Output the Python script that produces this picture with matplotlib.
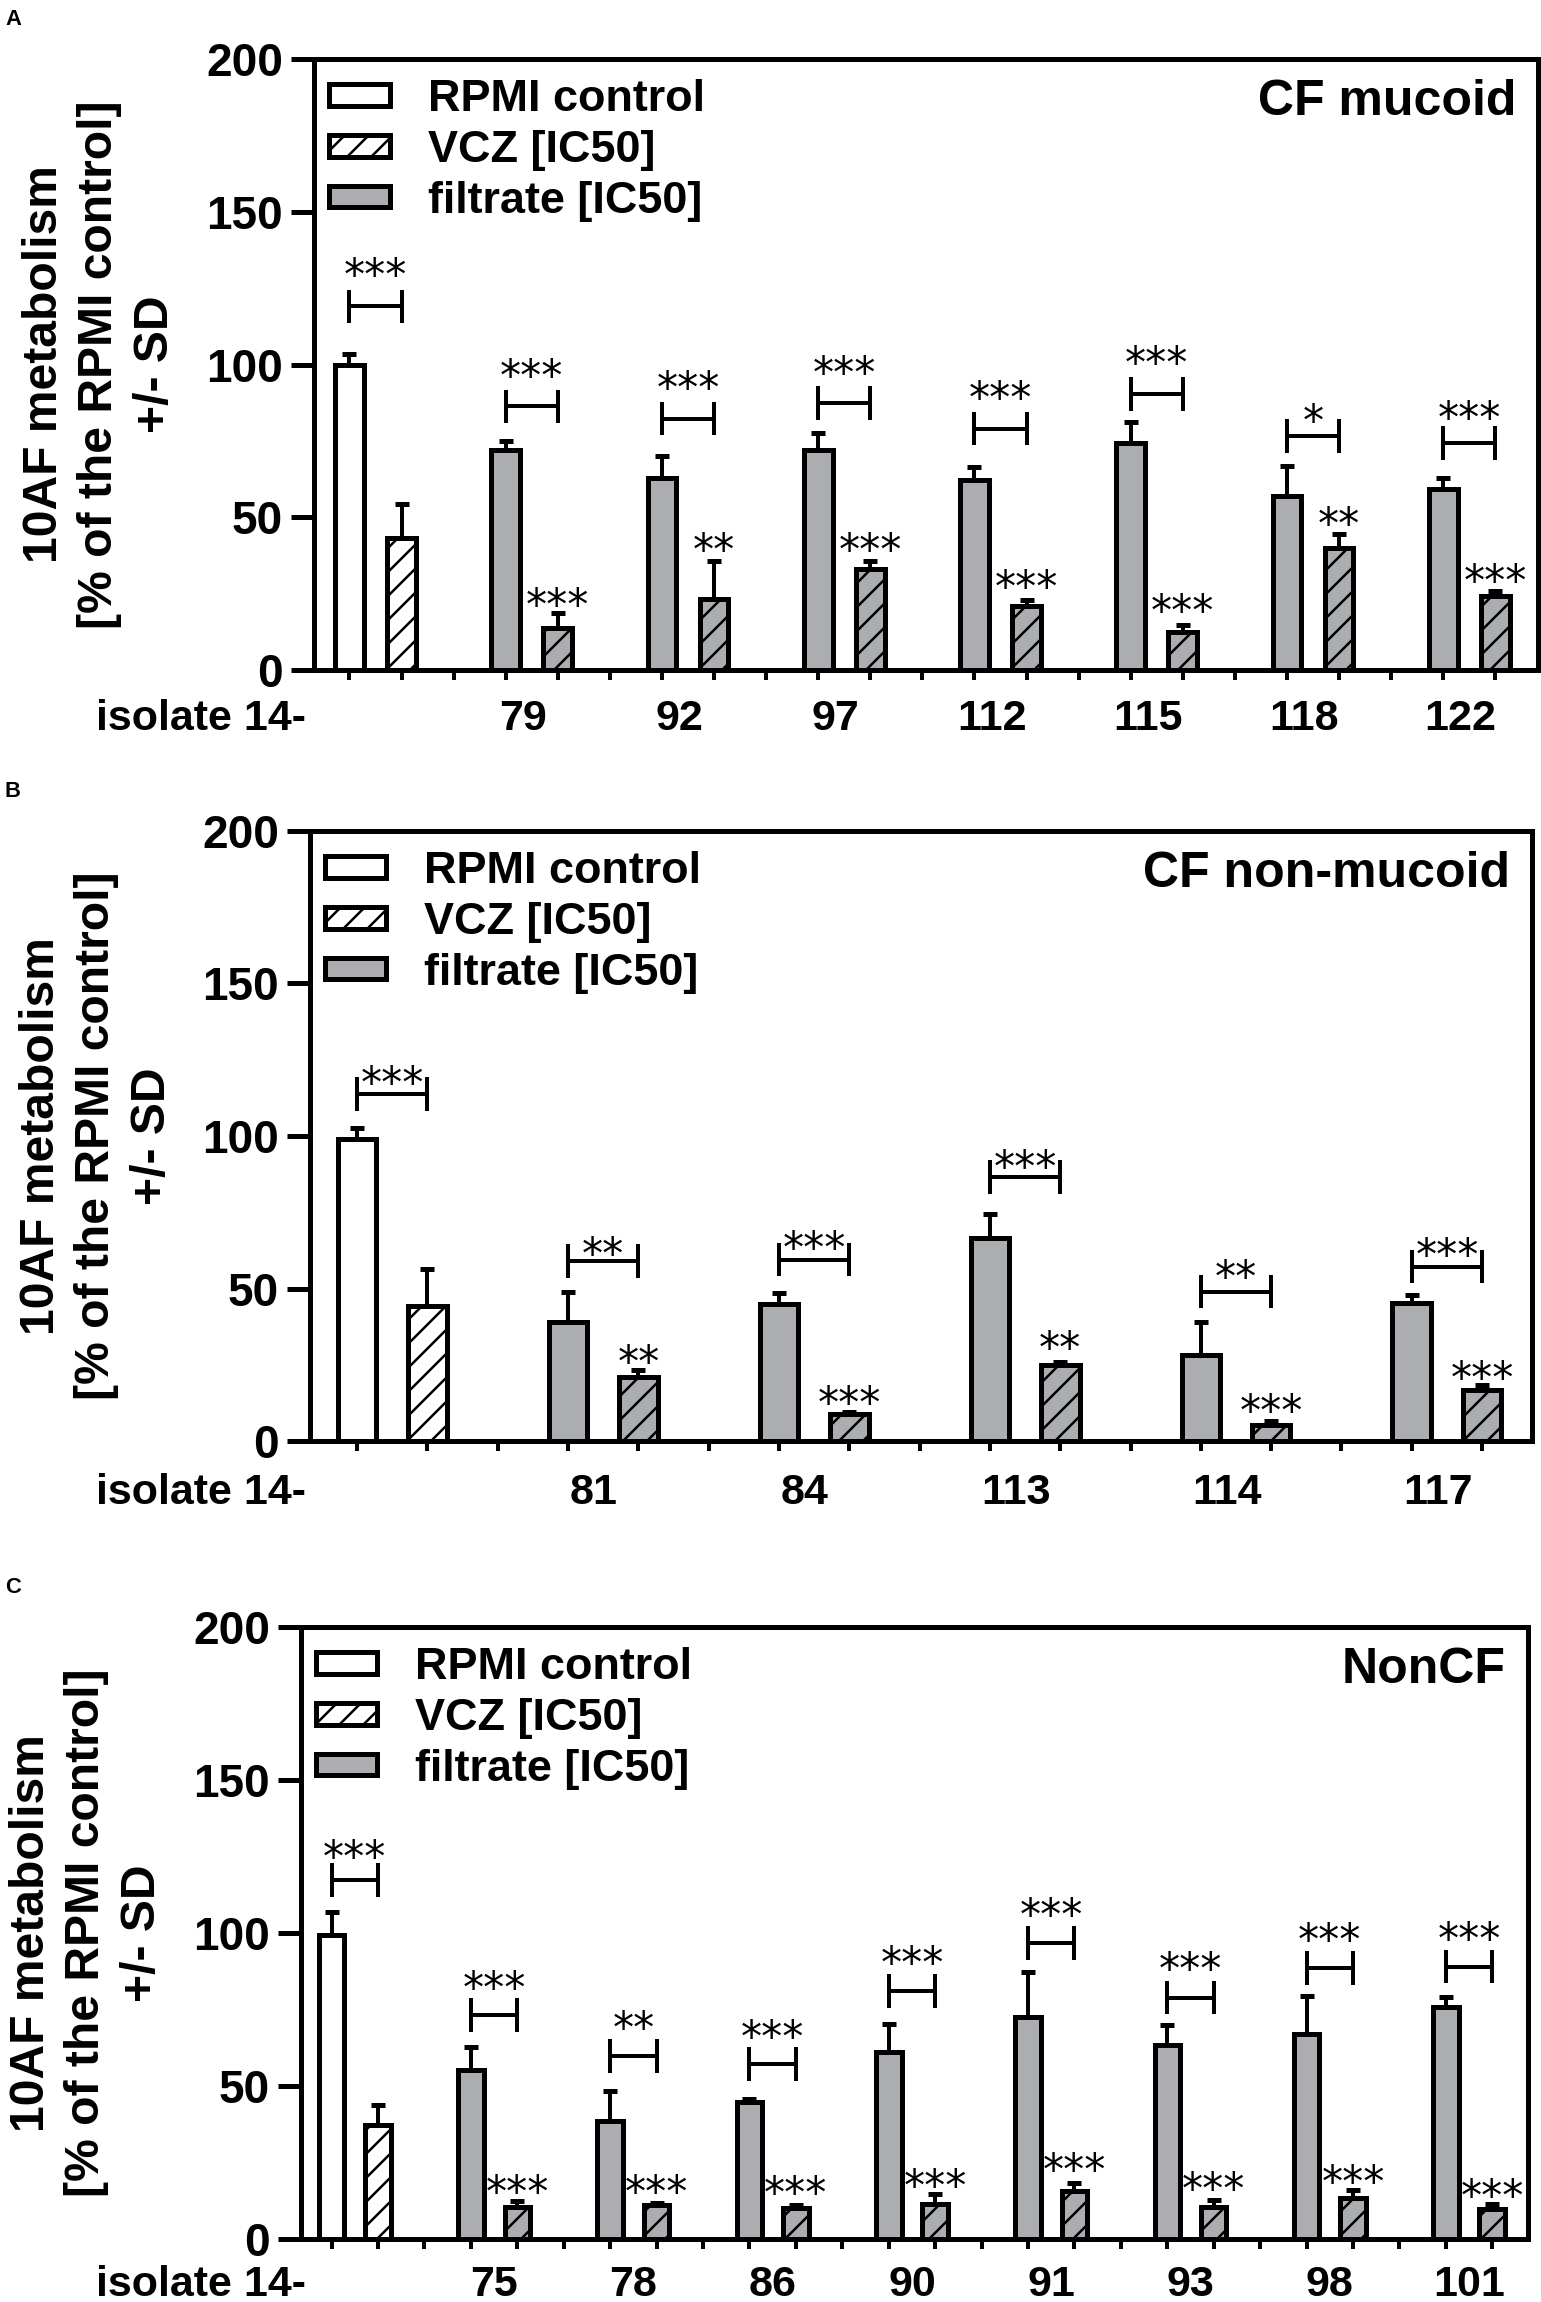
'''
Three-panel bar chart: 10AF metabolism under VCZ / filtrate, CF mucoid, CF non-mucoid, NonCF
'''
import numpy as np
import matplotlib.pyplot as plt
from matplotlib.patches import Patch

plt.rcParams['font.family'] = ['Liberation Sans', 'DejaVu Sans']
plt.rcParams['font.weight'] = 'bold'
plt.rcParams['hatch.linewidth'] = 2.5

GRAY = '#abadb0'

# ---- panel A: CF mucoid ----
groups_a = ['79', '92', '97', '112', '115', '118', '122']
ctrl_a = [100, 43.2]
ctrl_err_a = [3.5, 11]
filt_a = [72, 62.8, 72, 62.3, 74.3, 57, 59.3]
filt_err_a = [3, 7.3, 5.6, 4, 7, 9.8, 3.5]
vcz_a = [13.8, 23.3, 33, 21, 12.3, 40, 24.3]
vcz_err_a = [5, 12.4, 2.6, 2, 2.4, 4.5, 1.5]
bracket_a = [119, 86.3, 82.3, 87.4, 79, 90.4, 76.6, 74.3]
bracket_star_a = [132, 99, 95, 100, 91.6, 103, 84, 85]
bracket_sig_a = ['***', '***', '***', '***', '***', '***', '*', '***']
vcz_star_a = [24, 42, 42, 29.7, 21.8, 50.3, 31.8]
vcz_sig_a = ['***', '**', '***', '***', '***', '**', '***']

# ---- panel B: CF non-mucoid ----
groups_b = ['81', '84', '113', '114', '117']
ctrl_b = [99, 44.3]
ctrl_err_b = [3.5, 12]
filt_b = [38.9, 44.9, 66.7, 28.3, 45.2]
filt_err_b = [10, 3.7, 7.8, 10.8, 2.7]
vcz_b = [21, 9, 24.8, 5.3, 16.6]
vcz_err_b = [2.3, 0.5, 1, 1.2, 1.8]
bracket_b = [113.7, 59, 59.5, 86.6, 49, 57.2]
bracket_star_b = [120, 64, 66, 92.6, 56.5, 63.5]
bracket_sig_b = ['***', '**', '***', '***', '**', '***']
vcz_star_b = [28.6, 15, 33, 12.5, 23.3]
vcz_sig_b = ['**', '***', '**', '***', '***']

# ---- panel C: NonCF ----
groups_c = ['75', '78', '86', '90', '91', '93', '98', '101']
ctrl_c = [99.5, 37.1]
ctrl_err_c = [7.3, 6.8]
filt_c = [55.2, 38.6, 44.7, 61.2, 72.5, 63.5, 66.9, 75.8]
filt_err_c = [7.5, 9.8, 1.2, 9, 14.6, 6.3, 12.6, 3.4]
vcz_c = [10.4, 11.1, 10, 11.6, 15.8, 10.4, 13.5, 9.8]
vcz_err_c = [2, 0.6, 1, 3, 2.5, 2.2, 2.6, 1.5]
bracket_c = [117.3, 73.2, 59.7, 57.1, 81, 96.8, 78.9, 88.6, 89]
bracket_star_c = [127.4, 84.8, 71.7, 68.7, 92.8, 108.5, 90.8, 100.3, 100.7]
bracket_sig_c = ['***', '***', '**', '***', '***', '***', '***', '***', '***']
vcz_star_c = [17.9, 17.9, 17.6, 19.8, 25.1, 19.1, 21.4, 16.8]
vcz_sig_c = ['***'] * 8

W, H = 1541, 2302
DPI = 72
YLABEL = '10AF metabolism\n[% of the RPMI control]\n+/- SD'


def star(ax, x, y, s):
    ax.annotate(s, (x, y), xytext=(0, -22), textcoords='offset points',
                ha='center', va='baseline', fontsize=42,
                family='DejaVu Sans', weight='normal')


def draw_panel(fig, box, letter, title, groups, ctrl, ctrl_err, filt, filt_err,
               vcz, vcz_err, bracket, bracket_star, bracket_sig, vcz_star, vcz_sig,
               xpad, ylab_x, lab_shift, lab_pad):
    l, r, t, b = box
    ax = fig.add_axes([l / W, 1 - b / H, (r - l) / W, (b - t) / H])
    n = len(groups)
    xf = np.arange(1, n + 1) * 3
    xv = xf + 1
    bw = 0.55
    ekw = dict(ecolor='black', elinewidth=4, capsize=7, capthick=5)
    lw = 5

    ax.bar(0, ctrl[0], bw, yerr=[[0], [ctrl_err[0]]], color='white',
           edgecolor='black', lw=lw, error_kw=ekw)
    ax.bar(1, ctrl[1], bw, yerr=[[0], [ctrl_err[1]]], color='white',
           edgecolor='black', lw=lw, hatch='/', error_kw=ekw)
    ax.bar(xf, filt, bw, yerr=[np.zeros(n), filt_err], color=GRAY,
           edgecolor='black', lw=lw, error_kw=ekw)
    ax.bar(xv, vcz, bw, yerr=[np.zeros(n), vcz_err], color=GRAY,
           edgecolor='black', lw=lw, hatch='/', error_kw=ekw)

    # significance brackets
    x_left = np.concatenate([[0], xf])
    x_right = np.concatenate([[1], xv])
    half = 5.5
    for x1, x2, y, ys, s in zip(x_left, x_right, bracket, bracket_star, bracket_sig):
        ax.hlines(y, x1, x2, color='black', lw=4)
        ax.vlines([x1, x2], y - half, y + half, color='black', lw=4)
        star(ax, (x1 + x2) / 2, ys, s)
    for x, ys, s in zip(xv, vcz_star, vcz_sig):
        star(ax, x, ys, s)

    last = xv[-1]
    ax.set_xlim(-xpad[0], last + xpad[1])
    ax.set_ylim(0, 200)
    ax.set_yticks([0, 50, 100, 150, 200])
    ax.tick_params(axis='y', length=23, width=5, pad=8, labelsize=46)
    ax.set_xticks(np.arange(last + 1))
    ax.set_xticklabels([])
    ax.tick_params(axis='x', which='major', length=10, width=4)
    ax.set_xticks(xf + 0.5 - lab_shift, groups, minor=True)
    ax.tick_params(axis='x', which='minor', length=0, pad=lab_pad, labelsize=43)
    for sp in ax.spines.values():
        sp.set_linewidth(5)

    ax.annotate('isolate 14-', (0, 0), xycoords='axes fraction',
                xytext=(-(l - 306), -lab_pad), textcoords='offset points',
                ha='right', va='top', fontsize=43)
    ax.annotate(title, (1, 1), xycoords='axes fraction', xytext=(-22, -43),
                textcoords='offset points', ha='right', va='center', fontsize=50)

    handles = [Patch(facecolor='white', edgecolor='black', lw=lw),
               Patch(facecolor='white', edgecolor='black', lw=lw, hatch='/'),
               Patch(facecolor=GRAY, edgecolor='black', lw=lw)]
    ax.legend(handles, ['RPMI control', 'VCZ [IC50]', 'filtrate [IC50]'],
              loc='upper left', bbox_to_anchor=(15 / (r - l), 1 - 20 / (b - t)),
              frameon=False, borderpad=0, borderaxespad=0, fontsize=45,
              handlelength=1.35, handleheight=0.36, handletextpad=0.85,
              labelspacing=0.22)

    fig.text(ylab_x / W, 1 - (t + b) / 2 / H, YLABEL, rotation=90, ha='center',
             va='center', multialignment='center', fontsize=48, linespacing=1.3)
    fig.text(5 / W, 1 - (t - 50) / H, letter, ha='left', va='top', fontsize=22)
    return ax


fig = plt.figure(figsize=(W / DPI, H / DPI), dpi=DPI)

draw_panel(fig, (314, 1538, 59, 670), 'A', 'CF mucoid', groups_a, ctrl_a, ctrl_err_a,
           filt_a, filt_err_a, vcz_a, vcz_err_a, bracket_a, bracket_star_a,
           bracket_sig_a, vcz_star_a, vcz_sig_a, (0.68, 0.82), 100, 0.17, 29)
draw_panel(fig, (310, 1532, 831, 1441), 'B', 'CF non-mucoid', groups_b, ctrl_b, ctrl_err_b,
           filt_b, filt_err_b, vcz_b, vcz_err_b, bracket_b, bracket_star_b,
           bracket_sig_b, vcz_star_b, vcz_sig_b, (0.67, 0.71), 97, 0.13, 32)
draw_panel(fig, (301, 1528, 1627, 2239), 'C', 'NonCF', groups_c, ctrl_c, ctrl_err_c,
           filt_c, filt_err_c, vcz_c, vcz_err_c, bracket_c, bracket_star_c,
           bracket_sig_c, vcz_star_c, vcz_sig_c, (0.66, 0.77), 87, 0.0, 26)

fig.savefig('out.png', dpi=DPI)
